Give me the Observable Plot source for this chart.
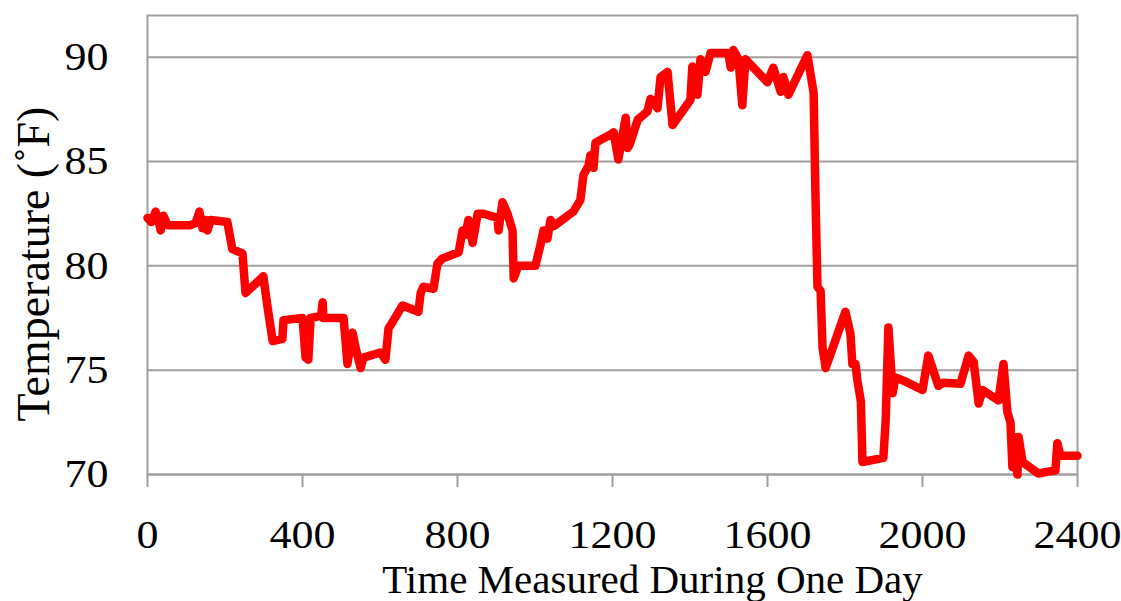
<!DOCTYPE html>
<html>
<head>
<meta charset="utf-8">
<script src="https://cdn.jsdelivr.net/npm/d3@7"></script>
<script src="https://cdn.jsdelivr.net/npm/@observablehq/plot@0.6"></script>
<style>
  html, body { margin: 0; padding: 0; background: #fff; }
  #chart svg { display: block; }
</style>
</head>
<body>
<div id="chart"></div>
<script>
// Time measured during one day (HHMM-like numeric scale)
const times = [0,10,21,28,34,41,52,111,124,134,142,150,155,163,206,219,245,253,299,310,323,348,351,400,408,415,421,448,452,454,506,516,529,538,550,557,601,614,622,645,658,699,705,712,738,748,761,803,813,821,828,839,852,867,903,906,916,929,942,945,957,1001,1014,1022,1032,1040,1048,1099,1117,1125,1138,1143,1151,1156,1195,1203,1215,1234,1239,1244,1265,1290,1298,1306,1316,1324,1342,1355,1401,1406,1419,1427,1440,1453,1499,1505,1512,1525,1535,1543,1600,1615,1634,1641,1654,1703,1719,1724,1729,1737,1742,1750,1801,1814,1819,1827,1832,1841,1845,1899,1905,1912,1923,1930,1951,2000,2015,2041,2054,2098,2119,2132,2145,2155,2196,2209,2219,2227,2232,2235,2245,2248,2258,2299,2343,2348,2356,2400];
// Temperature (°F)
const temps = [82.3,82.1,82.6,82.2,81.7,82.4,81.95,81.95,82.05,82.6,81.8,82.2,81.7,82.2,82.1,80.8,80.6,78.7,79.5,78.0,76.4,76.5,77.4,77.5,75.6,75.5,77.5,77.6,78.25,77.5,77.5,75.3,76.8,76.0,75.1,75.6,75.85,75.5,77.0,77.7,78.1,77.8,78.7,79.0,78.9,80.1,80.35,80.65,81.7,81.5,82.2,81.1,82.5,82.5,82.3,81.7,83.05,82.5,81.7,79.4,80.0,80.0,81.0,81.7,81.3,82.2,81.9,82.6,83.15,84.35,84.8,85.3,84.7,85.9,86.3,86.4,85.1,87.1,85.65,85.8,87.0,87.4,88.0,87.9,87.55,89.05,89.3,86.75,87.95,89.55,88.2,89.9,89.3,90.2,90.2,89.5,90.35,89.9,87.7,89.9,88.8,89.5,88.35,89.05,88.2,90.1,88.3,83.15,79.0,78.8,76.1,75.1,77.8,76.75,75.3,75.3,74.5,73.5,70.6,70.8,72.6,77.05,73.9,74.65,74.5,74.05,75.7,74.25,74.4,74.35,75.7,75.4,73.4,74.05,73.55,75.3,73.0,72.5,70.35,71.8,70.0,71.8,70.6,70.05,70.2,71.5,70.9,70.9];

const xTicks = [0, 400, 800, 1200, 1600, 2000, 2400];
const yTicks = [70, 75, 80, 85, 90];
const xTitle = "Time Measured During One Day";
const yTitle = "Temperature (˚F)";

const data = times.map((t, i) => ({t, v: temps[i]}));
const grid = "#a0a0a0";
const SX = 1.1;

const chart = Plot.plot({
  width: 1121,
  height: 601,
  marginLeft: 147,
  marginRight: 44,
  marginTop: 15,
  marginBottom: 127,
  style: {
    fontFamily: "'Liberation Serif', 'Times New Roman', serif",
    fontSize: "40px",
    color: "#000",
    background: "#fff",
    overflow: "visible"
  },
  x: {domain: [0, 2400]},
  y: {domain: [70, 92]},
  marks: [
    Plot.gridY(yTicks, {stroke: grid, strokeOpacity: 1, strokeWidth: 2}),
    Plot.frame({stroke: grid, strokeWidth: 2}),
    Plot.axisY(yTicks, {tickSize: 0, tickPadding: 39, label: null, fontSize: 40, tickFormat: d => String(d)}),
    Plot.axisX(xTicks, {tickSize: 13, tickPadding: 32, label: null, stroke: grid, strokeWidth: 2, strokeOpacity: 1, fontSize: 40, tickFormat: d => String(d)}),
    Plot.line(data, {x: "t", y: "v", stroke: "#ff0000", strokeWidth: 8.5, strokeLinejoin: "round", strokeLinecap: "round"}),
    Plot.text([xTitle], {frameAnchor: "bottom", text: d => d, dy: 118, dx: 40, textAnchor: "middle", lineAnchor: "bottom", fontSize: 41, fill: "#000"}),
    Plot.text([yTitle], {frameAnchor: "left", text: d => d, dx: -99, dy: 19, rotate: -90, textAnchor: "middle", lineAnchor: "bottom", fontSize: 46, fill: "#000"})
  ]
});

// Slight horizontal stretch of the tick labels, as in the reference raster
chart.querySelectorAll("g[aria-label='x-axis tick label'] text, g[aria-label='y-axis tick label'] text").forEach(t => {
  let tr = t.getAttribute("transform") || "";
  if (t.hasAttribute("x")) {
    const x = +t.getAttribute("x");
    t.removeAttribute("x");
    tr = `translate(${x},0) ` + tr;
  }
  t.setAttribute("transform", tr + ` scale(${SX},1)`);
});

document.getElementById("chart").append(chart);
</script>
</body>
</html>
